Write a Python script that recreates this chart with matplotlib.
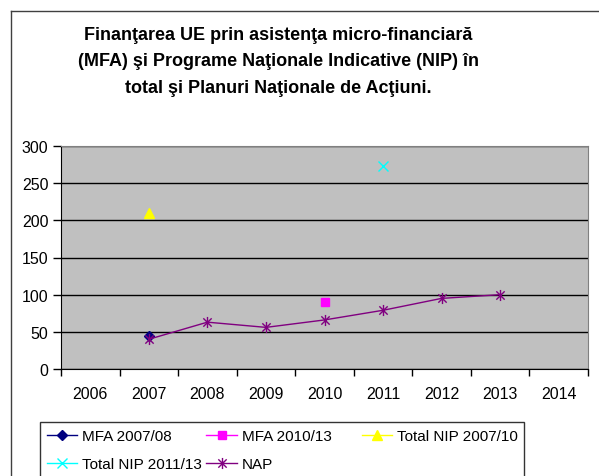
import matplotlib
matplotlib.use("Agg")
import matplotlib.pyplot as plt
import numpy as np
from matplotlib.path import Path
from matplotlib.lines import Line2D

plt.rcParams['font.family'] = ['Liberation Sans', 'DejaVu Sans']

years = ["2006", "2007", "2008", "2009", "2010", "2011", "2012", "2013", "2014"]
mfa_0708 = [np.nan, 45, np.nan, np.nan, np.nan, np.nan, np.nan, np.nan, np.nan]
mfa_1013 = [np.nan, np.nan, np.nan, np.nan, 90, np.nan, np.nan, np.nan, np.nan]
nip_0710 = [np.nan, 210, np.nan, np.nan, np.nan, np.nan, np.nan, np.nan, np.nan]
nip_1113 = [np.nan, np.nan, np.nan, np.nan, np.nan, 273, np.nan, np.nan, np.nan]
nap = [np.nan, 40, 63, 56, 66, 79, 95, 100, np.nan]

title = ("Finanţarea UE prin asistenţa micro-financiară\n"
         "(MFA) şi Programe Naţionale Indicative (NIP) în\n"
         "total şi Planuri Naţionale de Acţiuni.")

W, H = 599, 477
fig = plt.figure(figsize=(W / 100, H / 100), dpi=100)
ax = fig.add_axes([61 / W, 1 - 370 / H, (588 - 61) / W, (370 - 147) / H])
ax.set_facecolor('#C0C0C0')

x = np.arange(len(years))

ast = Path([(0, -1), (0, 1), (-0.75, -0.75), (0.75, 0.75), (-0.75, 0.75), (0.75, -0.75)],
           [Path.MOVETO, Path.LINETO, Path.MOVETO, Path.LINETO, Path.MOVETO, Path.LINETO])

h1, = ax.plot(x, mfa_0708, color='#000080', marker='D', markersize=5, lw=1, label='MFA 2007/08', zorder=4)
h2, = ax.plot(x, mfa_1013, color='#FF00FF', marker='s', markersize=6, lw=1, label='MFA 2010/13', zorder=4)
h3, = ax.plot(x, nip_0710, color='#FFFF00', marker='^', markersize=7, lw=1, label='Total NIP 2007/10', zorder=4)
h4, = ax.plot(x, nip_1113, color='#00FFFF', marker='x', markersize=7, mew=1, lw=1, label='Total NIP 2011/13', zorder=4)
h5, = ax.plot(x, nap, color='#800080', marker=ast, markersize=8, mew=1, lw=1, label='NAP', zorder=4)

ax.set_xlim(-0.5, len(years) - 0.5)
ax.set_ylim(0, 300)
ax.set_yticks(np.arange(0, 301, 50))
ax.set_xticks(x)
ax.set_xticklabels(years)
ax.set_xticks(np.arange(-0.5, len(years), 1), minor=True)
ax.tick_params(axis='x', which='major', length=0, pad=12, labelsize=11.5)
ax.tick_params(axis='x', which='minor', length=5, width=1, color='black', direction='out')
ax.tick_params(axis='y', length=6, width=1, direction='out', labelsize=11.5, pad=3)
ax.grid(axis='y', color='black', lw=1)
ax.set_axisbelow(True)
for s in ['top', 'right']:
    ax.spines[s].set_color('#808080')
for s in ['left', 'bottom']:
    ax.spines[s].set_color('black')

fig.text(278 / W, 1 - 62 / H, title, ha='center', va='center', fontsize=13,
         fontweight='bold', linespacing=1.75)

handles = [h1, h4, h2, h5, h3]
pad = " " * 6
labels = [h1.get_label(), h4.get_label(), h2.get_label() + pad, h5.get_label(), h3.get_label()]
leg = fig.legend(handles=handles, labels=labels,
                 loc='upper left', bbox_to_anchor=(40 / W, 1 - 423 / H), ncol=3,
                 fontsize=11, frameon=True, fancybox=False, edgecolor='black',
                 handlelength=2.0, handletextpad=0.3, columnspacing=0.3,
                 borderpad=0.45, labelspacing=0.95, borderaxespad=0)
leg.get_frame().set_linewidth(1)

fig.add_artist(Line2D([11 / W, 11 / W], [0, 1 - 12 / H], color='#404040', lw=1))
fig.add_artist(Line2D([11 / W, 1], [1 - 12 / H, 1 - 12 / H], color='#404040', lw=1))

fig.savefig('out.png', dpi=100)
